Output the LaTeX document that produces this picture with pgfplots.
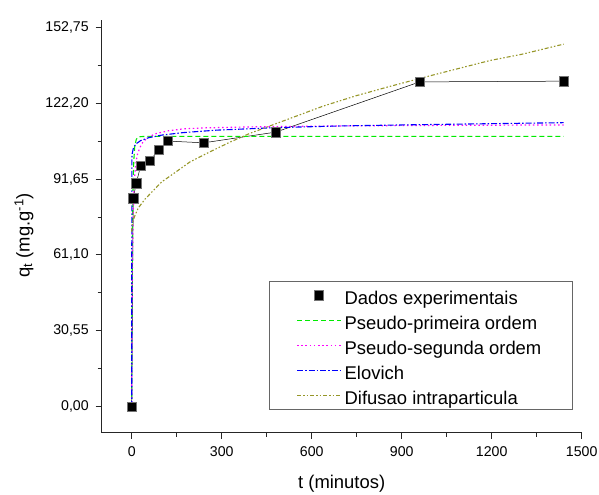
\documentclass[border=0pt]{standalone}
\usepackage{pgfplots}
\pgfplotsset{compat=1.18}
\usepackage{fontspec}
\setmainfont{Liberation Sans}
\definecolor{cgreen}{RGB}{0,235,0}
\definecolor{cmag}{RGB}{255,0,255}
\definecolor{cblue}{RGB}{0,0,255}
\definecolor{colive}{RGB}{150,150,40}
\tikzset{
  sgreen/.style={cgreen, line width=1.1bp, dash pattern=on 5bp off 3bp},
  smag/.style={cmag, line width=1.2bp, dash pattern=on 1.5bp off 2.7bp},
  sblue/.style={cblue, line width=1.1bp, dash pattern=on 6bp off 2bp on 1.5bp off 2bp},
  solive/.style={colive, line width=1.1bp, dash pattern=on 4bp off 2bp on 1.5bp off 2bp on 1.5bp off 2bp},
}
\pgfplotsset{
  leg/.style={legend image code/.code={\draw[#1] (0bp,0bp) -- (44bp,0bp);}},
  marklegend/.style={legend image code/.code={\draw[##1, only marks] plot coordinates {(22bp,0bp)};}},
}
\begin{document}
\begin{tikzpicture}
\path[use as bounding box] (0,0) rectangle (599bp,495bp);
\begin{axis}[
  at={(101.7bp,62.3bp)}, anchor=south west, scale only axis,
  width=480bp, height=412.7bp,
  xmin=-100, xmax=1500, ymin=-10.4, ymax=155.6,
  axis lines=left, axis line style={-, line width=1bp, black!85},
  tick align=outside, major tick length=6bp, minor tick length=4bp,
  tick style={black!85, line width=0.9bp},
  xtick={0,300,600,900,1200,1500}, xticklabels={0,300,600,900,1200,1500},
  minor xtick={150,450,750,1050,1350},
  ytick={0,30.55,61.10,91.65,122.20,152.75},
  yticklabels={{0,00},{30,55},{61,10},{91,65},{122,20},{152,75}},
  minor ytick={15.275,45.825,76.375,106.925,137.475},
  ticklabel style={font=\fontsize{14.2}{17}\selectfont},
  xticklabel style={yshift=-4.5bp}, yticklabel style={xshift=-3.5bp},
  xlabel={t (minutos)}, ylabel={q\textsubscript{t} (mg.g\textsuperscript{-1})},
  label style={font=\fontsize{18.5}{22}\selectfont},
  xlabel style={at={(axis description cs:0.5,-0.124)}, anchor=center},
  ylabel style={at={(axis description cs:-0.162,0.478)}, anchor=center},
  legend cell align=left,
  legend style={at={(axis description cs:0.980,0.0567)}, anchor=south east,
    draw=black!60, fill=white,
    font=\fontsize{18.5}{22}\selectfont,
    inner xsep=27.5bp, inner ysep=5bp, row sep=7.5bp,
    nodes={inner ysep=0bp, inner xsep=3bp, text height=17.5bp, text depth=0bp}},
]
\addplot[black, line width=0.5bp, mark=square*, mark size=4.7bp,
  mark options={solid, fill=black, draw=black!55, line width=0.6bp}, marklegend]
  coordinates {(0,0) (5,83.9) (15,89.9) (30,97.0) (60,98.9) (90,103.4) (120,106.9)
  (240,106.2) (480,110.5) (960,130.7) (1440,131.0)};
\addlegendentry{Dados experimentais}
\addplot[sgreen, leg=sgreen]
  coordinates {(0,0) (1,35) (2,58) (3,74) (4,84) (5,91) (7,99) (10,104.5) (15,107.5)
  (20,108.4) (30,108.7) (60,108.8) (1440,108.8)};
\addlegendentry{Pseudo-primeira ordem}
\addplot[smag, leg=smag]
  coordinates {(0,0) (1,33) (2,52) (3,64) (5,78) (7,86) (10,93) (15,99) (20,102)
  (33,105.8) (50,108) (78,109.8) (121,111) (171,111.8) (240,112.2) (394,112.6)
  (700,113) (1000,113.2) (1440,113.4)};
\addlegendentry{Pseudo-segunda ordem}
\addplot[sblue, leg=sblue]
  coordinates {(0,0) (0.5,99.4) (1,100.7) (2,102) (5,103.7) (10,105) (17,106)
  (30,107.1) (55,108.2) (100,109.3) (171,110.3) (283,111.3) (480,112.3) (700,113)
  (960,113.5) (1200,113.9) (1440,114.3)};
\addlegendentry{Elovich}
\addplot[solive, leg=solive]
  coordinates {(0,70.5) (1,72.7) (2,73.5) (5,75.1) (11,77) (22,80) (44,83.5) (72,87)
  (100,90.5) (136,93.5) (194,98.5) (261,102.6) (328,106.5) (394,110) (461,113)
  (550,117) (639,121) (750,125.2) (861,128.9) (958,132) (1028,134.2) (1194,139.3)
  (1300,141.8) (1440,145.9)};
\addlegendentry{Difusao intraparticula}
\end{axis}
\end{tikzpicture}
\end{document}
